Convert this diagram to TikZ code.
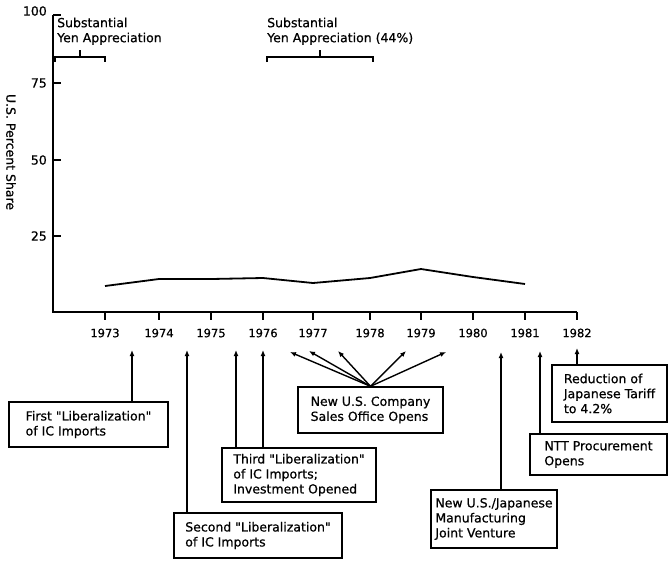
\documentclass[tikz,border=0pt]{standalone}
\usepackage{fontspec}
\newfontfamily\plainfont{DejaVu Sans}[FakeBold=0.7]
\usetikzlibrary{arrows.meta}
\begin{document}
\begin{tikzpicture}[x=1pt,y=-1pt,
  every node/.style={font=\plainfont\fontsize{12.5}{15}\selectfont},
  box/.style={draw, line width=1.4pt, align=left, inner sep=2pt},
  arr/.style={line width=1.4pt, -{Latex[length=6pt,width=5pt]}},
  ax/.style={line width=1.8pt},
  brk/.style={line width=1.3pt},
  yr/.style={font=\plainfont\fontsize{11.5}{13}\selectfont},
]
\useasboundingbox (0,0) rectangle (668,563);

% axes
\draw[ax] (53,15) -- (53,312) -- (577,312);
\foreach \y/\lab in {15/100,83/75,160/50,236/25}{
  \draw[ax] (53,\y) -- (61,\y);
}
\node[anchor=east, inner sep=0] (y100) at (47,11) {100};
\node[anchor=east, inner sep=0] (y75) at (47,83) {75};
\node[anchor=east, inner sep=0] (y50) at (47,160) {50};
\node[anchor=east, inner sep=0] (y25) at (47,236) {25};
\node[rotate=-90, inner sep=0] (ytitle) at (11,152) {U.S. Percent Share};

\foreach \x/\yy in {105/1973,159/1974,211/1975,263/1976,313/1977,370/1978,421/1979,473/1980,525/1981,577/1982}{
  \draw[ax] (\x,312) -- (\x,320);
  \node[yr, inner sep=0] (yr\yy) at (\x,333) {\yy};
}

% data line
\draw[line width=1.8pt, line join=round] (105,286) -- (159,279) -- (211,279) -- (263,278) -- (313,283) -- (370,278) -- (421,269) -- (473,277) -- (525,284);

% yen appreciation
\node[anchor=north west, align=left, inner sep=0] (yen1) at (57,17.5) {Substantial\\Yen Appreciation};
\draw[brk] (55,62) -- (55,57) -- (105,57) -- (105,62);
\draw[brk] (80,57) -- (80,50);
\node[anchor=north west, align=left, inner sep=0] (yen2) at (267,17.5) {Substantial\\Yen Appreciation (44\%)};
\draw[brk] (267,62) -- (267,57) -- (373,57) -- (373,62);
\draw[brk] (320,57) -- (320,50);

% boxes
\node[box, minimum width=159pt, minimum height=45pt] (b1) at (88.5,424.5) {First "Liberalization"\\of IC Imports};
\node[box, minimum width=168pt, minimum height=45pt] (b2) at (258,535.5) {Second "Liberalization"\\of IC Imports};
\node[box, minimum width=154pt, minimum height=54pt] (b3) at (299,475) {Third "Liberalization"\\of IC Imports;\\Investment Opened};
\node[box, minimum width=145pt, minimum height=46pt] (b4) at (370.5,410) {New U.S. Company\\Sales Office Opens};
\node[box, minimum width=126pt, minimum height=58pt] (b5) at (494,519) {New U.S./Japanese\\Manufacturing\\Joint Venture};
\node[box, minimum width=137pt, minimum height=41pt] (b6) at (598.5,454.5) {NTT Procurement\\Opens};
\node[box, minimum width=115pt, minimum height=57pt] (b7) at (609.5,393.5) {Reduction of\\Japanese Tariff\\to 4.2\%};

% arrow tips
\coordinate (t1) at (132,350);
\coordinate (t2) at (187,350);
\coordinate (t3a) at (236,350);
\coordinate (t3b) at (263,350);
\coordinate (f1) at (290,352);
\coordinate (f2) at (309,351);
\coordinate (f3) at (338,351);
\coordinate (f4) at (406,351);
\coordinate (f5) at (446,352);
\coordinate (t5) at (501,352);
\coordinate (t6) at (540,351);
\coordinate (t7) at (577,348);

\draw[arr] (b1.north -| t1) -- (t1);
\draw[arr] (b2.north -| t2) -- (t2);
\draw[arr] (b3.north -| t3a) -- (t3a);
\draw[arr] (b3.north -| t3b) -- (t3b);
\foreach \f in {f1,f2,f3,f4,f5}{
  \draw[arr] (b4.north) -- (\f);
}
\draw[arr] (b5.north -| t5) -- (t5);
\draw[arr] (b6.north -| t6) -- (t6);
\draw[arr] (b7.north -| t7) -- (t7);
\end{tikzpicture}
\end{document}
